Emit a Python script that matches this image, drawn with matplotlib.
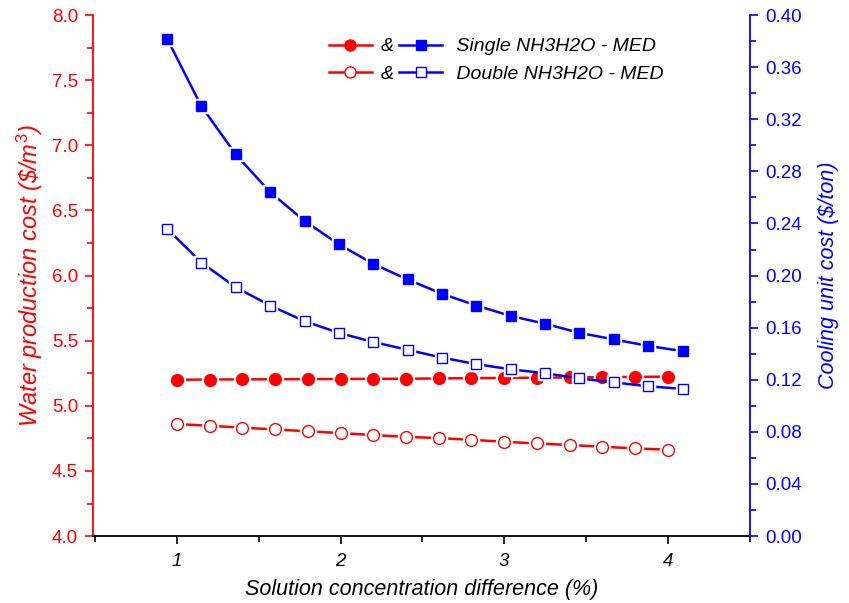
import matplotlib
matplotlib.use("Agg")
import matplotlib.pyplot as plt
from matplotlib.ticker import MultipleLocator, FormatStrFormatter

plt.rcParams["font.family"] = ["Liberation Sans", "DejaVu Sans"]
plt.rcParams["mathtext.fontset"] = "custom"
plt.rcParams["mathtext.it"] = "Liberation Sans:italic"
plt.rcParams["mathtext.rm"] = "Liberation Sans"

# solution concentration difference (%)
conc_red = [1.0, 1.2, 1.4, 1.6, 1.8, 2.0, 2.2, 2.4, 2.6, 2.8, 3.0, 3.2, 3.4, 3.6, 3.8, 4.0]
conc_blue = [0.94, 1.15, 1.36, 1.57, 1.78, 1.99, 2.20, 2.41, 2.62, 2.83, 3.04, 3.25, 3.46, 3.67, 3.88, 4.09]

# water production cost ($/m3)
water_single = [5.200, 5.202, 5.203, 5.204, 5.205, 5.206, 5.207, 5.208,
                5.210, 5.212, 5.214, 5.216, 5.218, 5.220, 5.222, 5.224]
water_double = [4.860, 4.847, 4.832, 4.819, 4.804, 4.791, 4.775, 4.762,
                4.752, 4.739, 4.724, 4.711, 4.699, 4.686, 4.673, 4.663]

# cooling unit cost ($/ton)
cool_single = [0.382, 0.330, 0.293, 0.264, 0.242, 0.224, 0.209, 0.197,
               0.186, 0.177, 0.169, 0.163, 0.156, 0.151, 0.146, 0.142]
cool_double = [0.236, 0.210, 0.191, 0.177, 0.165, 0.156, 0.149, 0.143,
               0.137, 0.132, 0.128, 0.125, 0.121, 0.118, 0.115, 0.113]

RED = "#ff0000"
BLUE = "#0000ff"


def origin_line(ax, x, y, color, marker, filled, ms):
    # line with small gaps around markers
    ax.plot(x, y, color=color, lw=1.8, zorder=2)
    ax.plot(x, y, ls="none", marker=marker, ms=ms + 3, mfc="white",
            mec="white", zorder=3)
    line, = ax.plot(x, y, ls="none", marker=marker, ms=ms,
                    mfc=color if filled else "white", mec=color,
                    mew=1.0, zorder=4)
    return line


fig = plt.figure(figsize=(8.49, 6.03), dpi=100)
ax = fig.add_axes([0.110, 0.111, 0.773, 0.864])
ax2 = ax.twinx()

origin_line(ax, conc_red, water_single, RED, "o", True, 8.5)
origin_line(ax, conc_red, water_double, RED, "o", False, 8.5)
origin_line(ax2, conc_blue, cool_single, BLUE, "s", True, 7.5)
origin_line(ax2, conc_blue, cool_double, BLUE, "s", False, 7.5)

ax.set_xlim(0.49, 4.5)
ax.set_ylim(4.0, 8.0)
ax2.set_ylim(0.0, 0.40)

ax.xaxis.set_major_locator(MultipleLocator(1))
ax.xaxis.set_minor_locator(MultipleLocator(0.5))
ax.yaxis.set_major_locator(MultipleLocator(0.5))
ax.yaxis.set_minor_locator(MultipleLocator(0.25))
ax.yaxis.set_major_formatter(FormatStrFormatter("%.1f"))
ax2.yaxis.set_major_locator(MultipleLocator(0.04))
ax2.yaxis.set_minor_locator(MultipleLocator(0.02))
ax2.yaxis.set_major_formatter(FormatStrFormatter("%.2f"))

for a in (ax, ax2):
    a.spines["top"].set_visible(False)
ax.spines["right"].set_visible(False)
ax.spines["left"].set_color(RED)
ax2.spines["right"].set_color(BLUE)
ax2.spines["left"].set_visible(False)
ax2.spines["bottom"].set_visible(False)
for sp in ("left", "bottom"):
    ax.spines[sp].set_linewidth(1.3)
ax2.spines["right"].set_linewidth(1.3)

ax.tick_params(axis="x", which="major", length=6, width=1.2, labelsize=13.5, pad=6)
ax.tick_params(axis="x", which="minor", length=4, width=1.2)
ax.tick_params(axis="y", which="major", colors=RED, length=6, width=1.2, labelsize=13.5, pad=5)
ax.tick_params(axis="y", which="minor", colors=RED, length=4, width=1.2)
ax2.tick_params(axis="y", which="major", colors=BLUE, length=6, width=1.2, labelsize=13.5, pad=5)
ax2.tick_params(axis="y", which="minor", colors=BLUE, length=4, width=1.2)
for lbl in ax.get_xticklabels():
    lbl.set_style("italic")

ax.set_xlabel("Solution concentration difference (%)", fontsize=15.5, style="italic", labelpad=7)
ax.set_ylabel(r"Water production cost (\$/$m^3$)", fontsize=17, style="italic", color=RED, labelpad=5)
ax2.set_ylabel("Cooling unit cost ($/ton)", fontsize=15.5, style="italic", color=BLUE, labelpad=12)

# legend: red & blue handles side by side for each configuration
h_rs = plt.Line2D([], [], color=RED, lw=1.8, marker="o", ms=8, mfc=RED, mec=RED)
h_rd = plt.Line2D([], [], color=RED, lw=1.8, marker="o", ms=8, mfc="white", mec=RED)
h_bs = plt.Line2D([], [], color=BLUE, lw=1.8, marker="s", ms=7, mfc=BLUE, mec=BLUE)
h_bd = plt.Line2D([], [], color=BLUE, lw=1.8, marker="s", ms=7, mfc="white", mec=BLUE)
leg = ax2.legend([h_rs, h_rd, h_bs, h_bd],
                 ["&", "&", " Single NH3H2O - MED", " Double NH3H2O - MED"],
                 ncol=2, frameon=False, loc="upper left",
                 bbox_to_anchor=(0.332, 0.99), handlelength=2.2,
                 handletextpad=0.45, columnspacing=0.3, labelspacing=0.5,
                 prop={"size": 14, "style": "italic"})

fig.savefig("out.png", dpi=100)
